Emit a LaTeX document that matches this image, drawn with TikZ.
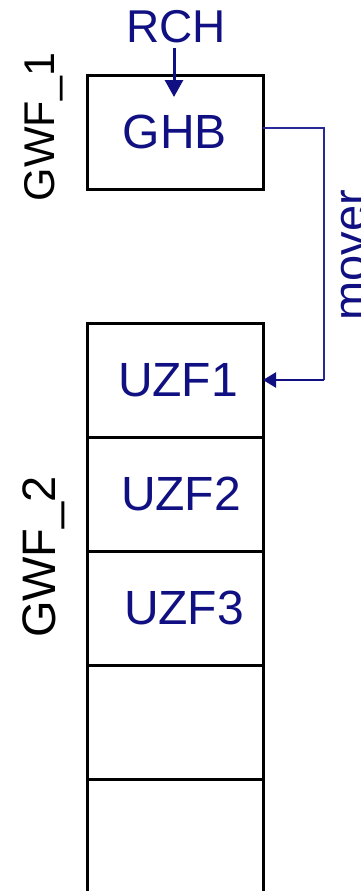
\documentclass[tikz,border=0pt]{standalone}
\usepackage{fontspec}
\setmainfont{Liberation Sans}
\usetikzlibrary{positioning,arrows.meta}
\definecolor{pkgblue}{RGB}{16,16,130}
\definecolor{movblue}{RGB}{40,40,150}
\tikzset{
  cell/.style={draw=black,line width=3pt,minimum width=176pt,minimum height=114pt,inner sep=0pt,outer sep=0pt,text=pkgblue,font=\fontsize{48}{52}\selectfont},
  gwflbl/.style={rotate=90,inner sep=0pt,font=\fontsize{47}{52}\selectfont},
}
\begin{document}
\begin{tikzpicture}[x=1pt,y=-1pt]
\useasboundingbox (0,0) rectangle (360,891);

%Shape: Box GWF_1
\node[cell] (ghb) at (175,132) {\raisebox{-3pt}{GHB}};
%Shape: Column GWF_2
\node[cell] (uzf1) at (175,380) {\hspace*{6pt}UZF1};
\node[cell,below=0pt of uzf1] (uzf2) {\hspace*{12pt}UZF2};
\node[cell,below=0pt of uzf2] (uzf3) {\hspace*{18pt}UZF3};
\node[cell,below=0pt of uzf3] (cellfour) {};
\node[cell,below=0pt of cellfour] (cellfive) {};

% Text Node
\node[inner sep=0pt,text=pkgblue,font=\fontsize{46}{50}\selectfont] (rch) at (176,27) {RCH};
% Text Node
\node[gwflbl] (gwfone) at (43.5,127) {\fontsize{43}{50}\selectfont GWF\_1};
% Text Node
\node[gwflbl] (gwftwo) at (43.5,557) {GWF\_2};
% Text Node
\node[rotate=90,anchor=north,inner sep=0pt,text=pkgblue,font=\fontsize{47}{52}\selectfont] (mover) at (341,255) {mover};

%Straight Lines
\coordinate (rchend) at (174,97);
\draw[pkgblue,line width=3pt,-{Triangle[length=17pt,width=18pt]}] (rch.south) ++(-2,5) -- (rchend);
\coordinate (movtop) at (324,128);
\coordinate (movbot) at (324,380);
\draw[movblue,line width=1.5pt] (ghb.east |- movtop) -- (movtop) -- (movbot);
\draw[pkgblue,line width=2.5pt,-{Triangle[length=13pt,width=15pt]}] (movbot) -- (uzf1.east);
\end{tikzpicture}
\end{document}
